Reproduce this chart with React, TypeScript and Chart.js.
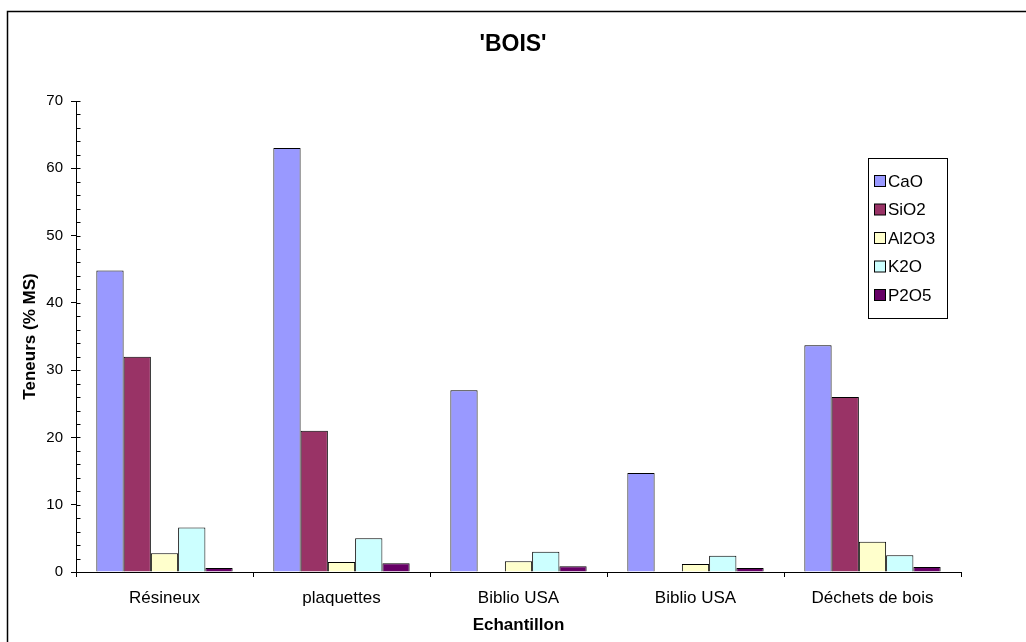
import React, { useEffect, useRef } from "react";
import { Chart, registerables } from "chart.js";

Chart.register(...registerables);

const categories = ["Résineux", "plaquettes", "Biblio USA", "Biblio USA", "Déchets de bois"];
const seriesNames = ["CaO", "SiO2", "Al2O3", "K2O", "P2O5"];
const cao = [44.8, 63, 27, 14.7, 33.7];
const sio2 = [32, 21, null, null, 26];
const al2o3 = [2.8, 1.5, 1.6, 1.2, 4.5];
const k2o = [6.6, 5, 3, 2.4, 2.5];
const p2o5 = [0.6, 1.3, 0.85, 0.6, 0.75];
const colors = ["#9999FF", "#993366", "#FFFFCC", "#CCFFFF", "#660066"];
const chartTitle = "'BOIS'";
const yMax = 70;
const yStep = 10;
const yMinorStep = 2;

const FONT = "Arial, 'Liberation Sans', sans-serif";

const framePlugin = {
  id: "frame",
  beforeDraw(chart: any) {
    const ctx = chart.ctx;
    ctx.save();
    ctx.fillStyle = "#ffffff";
    ctx.fillRect(0, 0, chart.width, chart.height);
    ctx.strokeStyle = "#000000";
    ctx.lineWidth = 1.5;
    ctx.strokeRect(7.5, 11.5, chart.width + 20, chart.height + 20);
    ctx.restore();
  },
  afterDraw(chart: any) {
    const ctx = chart.ctx;
    const y = chart.scales.y;
    const axisX = Math.round(y.right) + 0.5;
    ctx.save();
    // title
    ctx.fillStyle = "#000000";
    ctx.font = `bold 23px ${FONT}`;
    ctx.textAlign = "center";
    ctx.textBaseline = "middle";
    ctx.fillText(chartTitle, chart.width / 2, 45);

    // inside ticks (major + minor)
    ctx.strokeStyle = "#000000";
    ctx.lineWidth = 1;
    ctx.beginPath();
    for (let v = 0; v <= yMax; v += yMinorStep) {
      const py = Math.round(y.getPixelForValue(v)) + 0.5;
      ctx.moveTo(axisX, py);
      ctx.lineTo(axisX + 4, py);
    }
    ctx.stroke();

    // legend
    const left = 868;
    const top = 158;
    const w = 79;
    const h = 160;
    ctx.fillStyle = "#ffffff";
    ctx.fillRect(left, top, w, h);
    ctx.strokeRect(left + 0.5, top + 0.5, w, h);
    ctx.font = `17px ${FONT}`;
    ctx.textBaseline = "middle";
    ctx.textAlign = "left";
    chart.data.datasets.forEach((ds: any, i: number) => {
      const cy = top + 23 + i * 28.5;
      ctx.fillStyle = ds.backgroundColor;
      ctx.fillRect(left + 6.5, cy - 5.5, 11, 11);
      ctx.strokeStyle = "#000000";
      ctx.strokeRect(left + 6.5, cy - 5.5, 11, 11);
      ctx.fillStyle = "#000000";
      ctx.fillText(ds.label, left + 20, cy + 1);
    });
    ctx.restore();
  },
};

export default function App() {
  const ref = useRef<HTMLCanvasElement | null>(null);
  useEffect(() => {
    if (!ref.current) return;
    const series = [cao, sio2, al2o3, k2o, p2o5];
    const chart = new Chart(ref.current, {
      type: "bar",
      data: {
        labels: categories,
        datasets: series.map((d, i) => ({
          label: seriesNames[i],
          data: d,
          backgroundColor: colors[i],
          borderColor: "#000000",
          borderWidth: 1,
          categoryPercentage: 0.77,
          barPercentage: 1,
        })),
      },
      options: {
        responsive: false,
        animation: false,
        devicePixelRatio: 1,
        layout: { padding: { left: 0, right: 65, top: 101, bottom: 0 } },
        plugins: {
          legend: { display: false },
          tooltip: { enabled: false },
          title: { display: false },
        },
        scales: {
          x: {
            offset: true,
            grid: {
              offset: true,
              drawOnChartArea: false,
              tickLength: 5,
              color: "#000000",
            },
            border: { display: true, color: "#000000", width: 1 },
            ticks: {
              color: "#000000",
              font: { family: FONT, size: 17 },
              padding: 11,
              maxRotation: 0,
            },
            title: {
              display: true,
              text: "Echantillon",
              color: "#000000",
              font: { family: FONT, size: 17, weight: "bold" },
              padding: { top: 0, bottom: 6 },
            },
            afterFit(scale: any) {
              scale.height = 70;
            },
          },
          y: {
            min: 0,
            max: yMax,
            grid: {
              drawOnChartArea: false,
              tickLength: 5,
              color: "#000000",
            },
            border: { display: true, color: "#000000", width: 1 },
            ticks: {
              stepSize: yStep,
              color: "#000000",
              font: { family: FONT, size: 15 },
              padding: 8,
            },
            title: {
              display: true,
              text: "Teneurs (% MS)",
              color: "#000000",
              font: { family: FONT, size: 17, weight: "bold" },
              padding: { top: 20, bottom: 0 },
            },
            afterFit(scale: any) {
              scale.width = 76;
            },
          },
        },
      },
      plugins: [framePlugin],
    });
    return () => chart.destroy();
  }, []);
  return (
    <div style={{ position: "absolute", left: 0, top: 0, width: 1026, height: 642 }}>
      <canvas ref={ref} width={1026} height={642} style={{ display: "block" }} />
    </div>
  );
}
